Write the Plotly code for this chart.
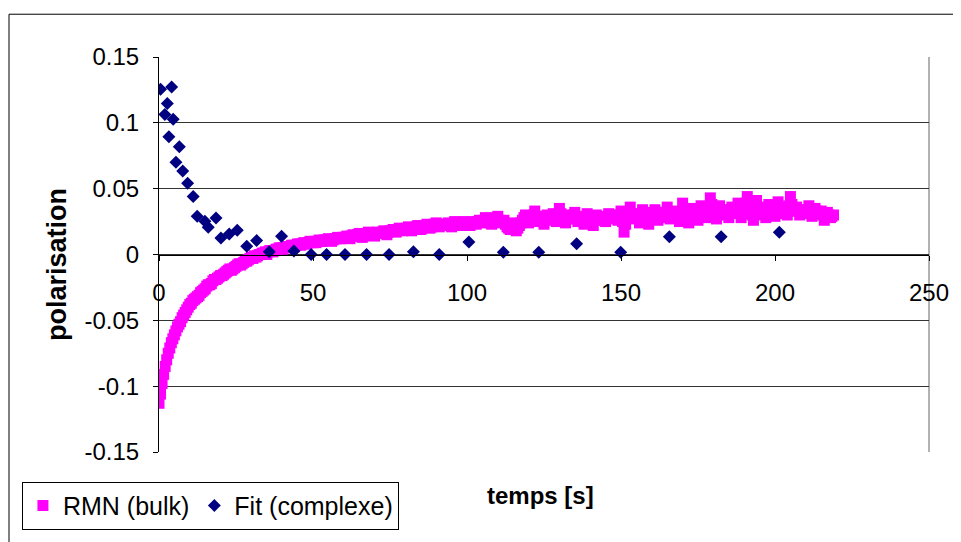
import plotly.graph_objects as go

# ---- data ----
# RMN (bulk): one reading every 0.5 s from 0 to 219 s
rmn_t = [i * 0.5 for i in range(439)]
rmn_y = [
    -0.113, -0.106, -0.098, -0.091, -0.085, -0.080, -0.075, -0.071, -0.067, -0.064,
    -0.061, -0.058, -0.055, -0.053, -0.051, -0.048, -0.046, -0.044, -0.042, -0.040,
    -0.038, -0.037, -0.035, -0.034, -0.033, -0.032, -0.031, -0.029, -0.028, -0.027,
    -0.026, -0.024, -0.023, -0.023, -0.022, -0.020, -0.019, -0.019, -0.018, -0.017,
    -0.016, -0.016, -0.015, -0.014, -0.013, -0.012, -0.011, -0.012, -0.011, -0.010,
    -0.009, -0.008, -0.007, -0.008, -0.007, -0.006, -0.005, -0.005, -0.004, -0.003,
    -0.002, -0.003, -0.001, -0.002, -0.001, 0.000, 0.000, 0.001, 0.001, 0.002,
    0.000, 0.002, 0.003, 0.003, 0.002, 0.003, 0.004, 0.004, 0.005, 0.005,
    0.004, 0.005, 0.006, 0.006, 0.005, 0.006, 0.007, 0.007, 0.006, 0.007,
    0.008, 0.008, 0.007, 0.008, 0.009, 0.008, 0.008, 0.009, 0.010, 0.009,
    0.009, 0.010, 0.009, 0.010, 0.011, 0.010, 0.010, 0.011, 0.011, 0.011,
    0.012, 0.011, 0.010, 0.011, 0.012, 0.012, 0.013, 0.012, 0.012, 0.013,
    0.013, 0.013, 0.014, 0.013, 0.012, 0.014, 0.015, 0.014, 0.014, 0.015,
    0.016, 0.014, 0.013, 0.014, 0.015, 0.016, 0.017, 0.016, 0.016, 0.015,
    0.014, 0.016, 0.017, 0.016, 0.016, 0.017, 0.018, 0.017, 0.015, 0.017,
    0.018, 0.018, 0.019, 0.018, 0.017, 0.019, 0.020, 0.019, 0.018, 0.019,
    0.019, 0.020, 0.021, 0.020, 0.018, 0.019, 0.020, 0.021, 0.022, 0.020,
    0.019, 0.020, 0.021, 0.022, 0.023, 0.021, 0.020, 0.021, 0.022, 0.023,
    0.024, 0.022, 0.021, 0.022, 0.023, 0.023, 0.022, 0.023, 0.024, 0.022,
    0.021, 0.023, 0.025, 0.024, 0.023, 0.022, 0.022, 0.024, 0.025, 0.024,
    0.024, 0.023, 0.022, 0.024, 0.025, 0.024, 0.023, 0.025, 0.026, 0.025,
    0.024, 0.026, 0.028, 0.026, 0.025, 0.024, 0.023, 0.025, 0.027, 0.028,
    0.029, 0.026, 0.024, 0.025, 0.026, 0.023, 0.021, 0.020, 0.019, 0.022,
    0.024, 0.021, 0.018, 0.020, 0.022, 0.024, 0.026, 0.028, 0.030, 0.027,
    0.024, 0.026, 0.027, 0.030, 0.033, 0.029, 0.025, 0.027, 0.029, 0.026,
    0.023, 0.027, 0.030, 0.028, 0.026, 0.029, 0.031, 0.028, 0.025, 0.030,
    0.035, 0.031, 0.028, 0.026, 0.024, 0.027, 0.030, 0.029, 0.027, 0.030,
    0.032, 0.028, 0.025, 0.027, 0.029, 0.026, 0.023, 0.027, 0.031, 0.029,
    0.027, 0.025, 0.022, 0.026, 0.030, 0.028, 0.026, 0.028, 0.029, 0.027,
    0.025, 0.028, 0.031, 0.029, 0.027, 0.028, 0.030, 0.028, 0.026, 0.030,
    0.033, 0.025, 0.017, 0.023, 0.028, 0.032, 0.036, 0.031, 0.027, 0.029,
    0.031, 0.028, 0.024, 0.029, 0.034, 0.031, 0.028, 0.026, 0.023, 0.027,
    0.030, 0.032, 0.034, 0.030, 0.026, 0.029, 0.032, 0.030, 0.028, 0.032,
    0.036, 0.031, 0.027, 0.030, 0.033, 0.031, 0.030, 0.028, 0.025, 0.032,
    0.039, 0.035, 0.031, 0.028, 0.024, 0.030, 0.035, 0.032, 0.029, 0.028,
    0.026, 0.031, 0.037, 0.034, 0.031, 0.030, 0.028, 0.035, 0.043, 0.038,
    0.033, 0.030, 0.027, 0.032, 0.037, 0.034, 0.030, 0.032, 0.034, 0.031,
    0.028, 0.032, 0.036, 0.033, 0.031, 0.035, 0.039, 0.034, 0.028, 0.031,
    0.034, 0.039, 0.044, 0.038, 0.033, 0.030, 0.026, 0.034, 0.041, 0.035,
    0.030, 0.033, 0.036, 0.032, 0.028, 0.033, 0.038, 0.035, 0.033, 0.031,
    0.029, 0.035, 0.040, 0.036, 0.031, 0.033, 0.035, 0.032, 0.030, 0.037,
    0.044, 0.038, 0.033, 0.034, 0.036, 0.033, 0.030, 0.032, 0.034, 0.032,
    0.031, 0.034, 0.037, 0.033, 0.029, 0.032, 0.035, 0.033, 0.031, 0.032,
    0.033, 0.030, 0.026, 0.029, 0.032, 0.030, 0.028, 0.029, 0.030,
]

fit_t = [0.5, 4.1, 2.7, 1.9, 4.6, 3.2, 6.6, 5.5, 7.7, 9.3,
         11.1, 12.4, 14.9, 16.0, 18.5, 20.1, 22.8, 25.4, 28.5, 31.7,
         35.8, 39.8, 43.8, 49.4, 54.4, 60.4, 67.4, 74.7, 82.6, 91.0,
         100.6, 111.8, 123.3, 135.6, 149.9, 165.7, 182.5, 201.4]
fit_y = [0.1255, 0.1273, 0.1147, 0.1064, 0.1028, 0.0895, 0.0819, 0.0701, 0.0635, 0.0542,
         0.0441, 0.0290, 0.0252, 0.0207, 0.0277, 0.0126, 0.0156, 0.0184, 0.0063, 0.0106,
         0.0020, 0.0139, 0.0026, 0.0000, 0.0000, 0.0000, 0.0000, 0.0000, 0.0020, 0.0000,
         0.0094, 0.0018, 0.0018, 0.0081, 0.0018, 0.0134, 0.0134, 0.0169]

x_ticks = [0, 50, 100, 150, 200, 250]
y_ticks = [-0.15, -0.1, -0.05, 0, 0.05, 0.1, 0.15]
y_tick_text = ["-0.15", "-0.1", "-0.05", "0", "0.05", "0.1", "0.15"]

FONT = "Liberation Sans, Arial, sans-serif"

fig = go.Figure()
fig.add_trace(go.Scatter(
    x=rmn_t, y=rmn_y, mode="markers", name="RMN (bulk)",
    marker=dict(symbol="square", size=11, color="#FF00FF", line=dict(width=0)),
))
fig.add_trace(go.Scatter(
    x=fit_t, y=fit_y, mode="markers", name="Fit (complexe)",
    marker=dict(symbol="diamond", size=10, color="#000080", line=dict(width=0)),
))

fig.update_layout(
    width=953, height=534,
    margin=dict(l=151, r=32, t=49, b=88),
    paper_bgcolor="white", plot_bgcolor="white",
    font=dict(family=FONT, size=24, color="black"),
    showlegend=True,
    legend=dict(
        orientation="h", x=-0.178, y=-0.075, xanchor="left", yanchor="top",
        bordercolor="black", borderwidth=1, bgcolor="white",
        font=dict(family=FONT, size=25, color="black"),
        itemwidth=30,
    ),
    xaxis=dict(
        range=[0, 250], tickvals=x_ticks, ticktext=[str(v) for v in x_ticks],
        showgrid=False, zeroline=False,
        showline=True, linecolor="black", linewidth=1,
        ticks="outside", ticklen=5, tickcolor="black",
        anchor="free", position=0.5,
        ticklabelstandoff=12,
        tickfont=dict(family=FONT, size=24, color="black"),
    ),
    yaxis=dict(
        range=[-0.15, 0.15], tickvals=y_ticks, ticktext=y_tick_text,
        showgrid=True, gridcolor="#333333", gridwidth=1, zeroline=False,
        showline=True, linecolor="black", linewidth=1,
        ticks="outside", ticklen=5, tickcolor="black",
        ticklabelstandoff=9,
        tickfont=dict(family=FONT, size=24, color="black"),
    ),
    annotations=[
        dict(text="<b>polarisation</b>", textangle=-90, xref="paper", yref="paper",
             x=-0.1325, y=0.476, xanchor="center", yanchor="middle", showarrow=False,
             font=dict(family=FONT, size=27, color="black")),
        dict(text="<b>temps [s]</b>", xref="paper", yref="paper",
             x=0.496, y=-0.111, xanchor="center", yanchor="middle", showarrow=False,
             font=dict(family=FONT, size=24, color="black")),
    ],
    shapes=[
        # plot-area right border (gray)
        dict(type="line", xref="paper", yref="paper", x0=1, x1=1, y0=0, y1=1,
             line=dict(color="#999999", width=1.5), layer="below"),
        # outer chart-area border (left and top)
        dict(type="line", xref="paper", yref="paper", x0=-0.1948, x1=-0.1948, y0=-0.25, y1=1.1083,
             line=dict(color="black", width=1)),
        dict(type="line", xref="paper", yref="paper", x0=-0.1948, x1=1.06, y0=1.1083, y1=1.1083,
             line=dict(color="black", width=1)),
    ],
)

fig.write_html("out.html")
